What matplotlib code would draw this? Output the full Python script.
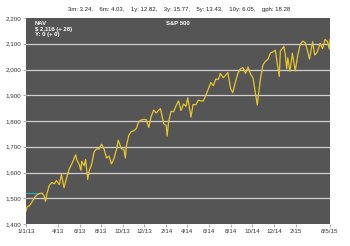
import matplotlib
matplotlib.use("Agg")
import matplotlib.pyplot as plt
import matplotlib.dates as mdates
import pandas as pd
import numpy as np

plt.rcParams['font.family'] = ['Liberation Sans', 'DejaVu Sans']

# S&P 500 closes (approximate)
dates = [
    "2013-01-01", "2013-01-04", "2013-01-11", "2013-01-18", "2013-01-25", "2013-02-01", "2013-02-08",
    "2013-02-15", "2013-02-20", "2013-02-25", "2013-03-01", "2013-03-08", "2013-03-15", "2013-03-22",
    "2013-03-28", "2013-04-05", "2013-04-11", "2013-04-18", "2013-04-26", "2013-05-03", "2013-05-10",
    "2013-05-21", "2013-05-24", "2013-05-31", "2013-06-05", "2013-06-07", "2013-06-14", "2013-06-18",
    "2013-06-24", "2013-06-28", "2013-07-05", "2013-07-12", "2013-07-19", "2013-07-26", "2013-08-02",
    "2013-08-09", "2013-08-16", "2013-08-23", "2013-08-30", "2013-09-06", "2013-09-13", "2013-09-18",
    "2013-09-27", "2013-10-04", "2013-10-08", "2013-10-11", "2013-10-18", "2013-10-25", "2013-11-01",
    "2013-11-08", "2013-11-15", "2013-11-22", "2013-11-29", "2013-12-06", "2013-12-13", "2013-12-20",
    "2013-12-27", "2014-01-03", "2014-01-10", "2014-01-15", "2014-01-24", "2014-01-31", "2014-02-03",
    "2014-02-07", "2014-02-14", "2014-02-21", "2014-02-28", "2014-03-07", "2014-03-14", "2014-03-21",
    "2014-03-28", "2014-04-02", "2014-04-11", "2014-04-17", "2014-04-25", "2014-05-02", "2014-05-09",
    "2014-05-16", "2014-05-23", "2014-05-30", "2014-06-06", "2014-06-13", "2014-06-20", "2014-06-27",
    "2014-07-03", "2014-07-11", "2014-07-18", "2014-07-24", "2014-08-01", "2014-08-07", "2014-08-15",
    "2014-08-22", "2014-08-29", "2014-09-05", "2014-09-12", "2014-09-19", "2014-09-26", "2014-10-03",
    "2014-10-10", "2014-10-15", "2014-10-17", "2014-10-24", "2014-10-31", "2014-11-07", "2014-11-14",
    "2014-11-21", "2014-11-28", "2014-12-05", "2014-12-10", "2014-12-16", "2014-12-19", "2014-12-29",
    "2015-01-02", "2015-01-06", "2015-01-09", "2015-01-15", "2015-01-22", "2015-01-30", "2015-02-06",
    "2015-02-13", "2015-02-20", "2015-02-27", "2015-03-06", "2015-03-11", "2015-03-20", "2015-03-26",
    "2015-04-02", "2015-04-10", "2015-04-17", "2015-04-24", "2015-05-01", "2015-05-06", "2015-05-08",
]
closes = [
    1450, 1466, 1472, 1486, 1503, 1513, 1518,
    1520, 1512, 1488, 1518, 1551, 1561, 1556,
    1569, 1553, 1593, 1541, 1582, 1614, 1633,
    1669, 1650, 1631, 1608, 1643, 1626, 1651,
    1573, 1606, 1632, 1680, 1692, 1691, 1710,
    1691, 1656, 1664, 1633, 1655, 1688, 1725,
    1692, 1690, 1656, 1703, 1745, 1759, 1762,
    1771, 1798, 1804, 1806, 1805, 1775, 1818,
    1842, 1831, 1842, 1848, 1790, 1783, 1742,
    1797, 1838, 1836, 1859, 1878, 1841, 1866,
    1857, 1890, 1815, 1864, 1863, 1881, 1878,
    1878, 1900, 1924, 1950, 1937, 1963, 1961,
    1985, 1968, 1978, 1988, 1925, 1910, 1955,
    1988, 2003, 2007, 1985, 2010, 1982, 1967,
    1906, 1862, 1887, 1964, 2018, 2032, 2039,
    2064, 2068, 2075, 2026, 1973, 2071, 2090,
    2058, 2003, 2045, 1993, 2063, 1995, 2055,
    2097, 2110, 2105, 2071, 2041, 2108, 2056,
    2067, 2102, 2081, 2117, 2108, 2080, 2116,
]

ref_dates = ["2013-01-01", "2013-02-15"]
ref_values = [1520, 1520]

tick_dates = ["2013-01-01", "2013-04-01", "2013-06-01", "2013-08-01", "2013-10-01", "2013-12-01",
              "2014-02-01", "2014-04-01", "2014-06-01", "2014-08-01", "2014-10-01", "2014-12-01",
              "2015-02-01", "2015-05-08"]
tick_labels = ["1/1/13", "4/13", "6/13", "8/13", "10/13", "12/13", "2/14", "4/14", "6/14",
               "8/14", "10/14", "12/14", "2/15", "8/5/15"]
y_ticks = [1400, 1500, 1600, 1700, 1800, 1900, 2000, 2100, 2200]

title = "3m: 3.24,    6m: 4.03,    1y: 12.82,    3y: 15.77,    5y: 13.43,    10y: 6.05,    gph: 18.28"
series_name = "S&P 500"
info_lines = ["NAV", "$ 2,116 (+ 28)", "Y: 0 (+ 0)"]

fig = plt.figure(figsize=(3.5, 2.46), dpi=100)
fig.patch.set_facecolor("white")
ax = fig.add_axes([26/350, 1-224/246, (330-26)/350, (224-18)/246])
ax.set_facecolor("#555555")

x = pd.to_datetime(dates)
ax.plot(x, closes, color="#E8C52C", lw=0.9, zorder=3)
ax.plot(pd.to_datetime(ref_dates), ref_values, color="#20B0C8", lw=0.8, zorder=2)

ax.set_xlim(pd.Timestamp("2013-01-01"), pd.Timestamp("2015-05-08"))
ax.set_ylim(1400, 2200)
ax.set_yticks(y_ticks)
ax.set_yticklabels([f"{v:,}" for v in y_ticks])
ax.set_xticks(pd.to_datetime(tick_dates))
ax.set_xticklabels(tick_labels)
for v in y_ticks[1:-1]:
    ax.axhline(v, color="#CFCFCF", lw=0.9, zorder=1)

ax.tick_params(axis="both", labelsize=4.5, length=2, width=0.5, colors="#888888",
               labelcolor="#333333", pad=1.5)
for s in ax.spines.values():
    s.set_visible(False)

fig.text(0.5 + 4/350, 1 - 9/246, title, ha="center", va="center", fontsize=4.3, color="#222222")
ax.text(0.5, 0.985, series_name, transform=ax.transAxes, ha="center", va="top",
        fontsize=4.3, color="white", fontweight="bold")
ax.text(0.028, 0.985, "\n".join(info_lines), transform=ax.transAxes, ha="left", va="top",
        fontsize=4.3, color="white", fontweight="bold", linespacing=1.15)

fig.savefig("out.png", dpi=100, facecolor="white")
